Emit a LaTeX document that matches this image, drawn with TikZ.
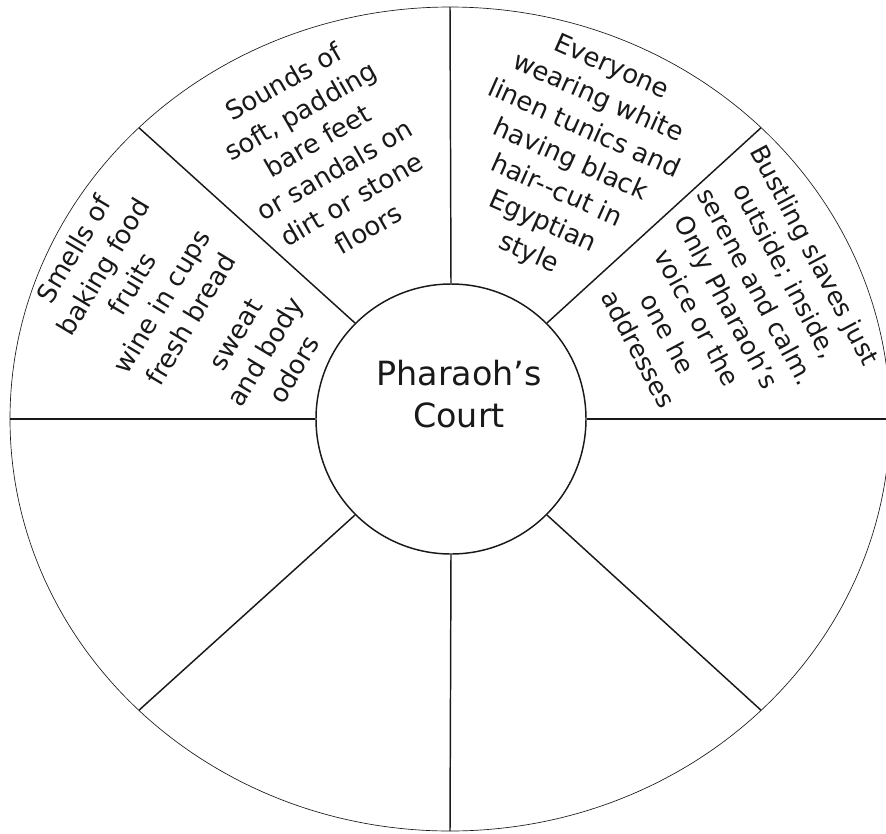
\documentclass[tikz,border=0pt]{standalone}
\usepackage{fontspec}
\setmainfont{DejaVu Sans}
\tikzset{every picture/.style={line width=0.75pt}}
\tikzset{
  hub/.style={circle, draw=black!90, line width=1.1pt, minimum size=202.5pt, inner sep=0pt},
  spoke/.style={draw=black!90, line width=1.1pt},
  rim/.style={draw=black!90, line width=0.5pt},
  wedgetext/.style={align=center, font=\fontsize{19.5}{25.5}\selectfont, text=black!90, inner sep=0pt},
  hubtext/.style={align=center, font=\fontsize{25}{32}\selectfont, text=black!90}
}

\begin{document}
\begin{tikzpicture}[x=0.75pt,y=0.75pt,yscale=-1,xscale=1]
\useasboundingbox (0,0) rectangle (886,833);

%Outer ring
\draw [rim] (450,419) ellipse [x radius=440, y radius=412];

% Hub
\node [hub] (court) at (451,419) {};
\node [hubtext] (courtname) at (459,394) {Pharaoh’s\\Court};

%Spokes
\foreach \a in {0,45,...,315} {
  \coordinate (rim\a) at ({450+440*cos(\a)},{419-412*sin(\a)});
  \draw [spoke] (court.\a) -- (rim\a);
}

% Text Node
\node [wedgetext, rotate=30] (sounds) at (326,155) {Sounds of\\soft, padding\\bare feet\\or sandals on\\dirt or stone\\floors};
% Text Node
\node [wedgetext, rotate=-24] (attire) at (570,161) {Everyone\\wearing white\\linen tunics and\\having black\\hair-{}-cut in\\Egyptian\\style};
% Text Node
\node [wedgetext, rotate=-62, font=\fontsize{19}{25}\selectfont] (bustle) at (727,302) {Bustling slaves just\\outside; inside,\\serene and calm.\\Only Pharaoh’s\\voice or the\\one he\\addresses};
% Text Node
\node [wedgetext, rotate=59] (smells) at (132,284) {Smells of\\baking food\\fruits\\wine in cups\\fresh bread};
% Text Node
\node [wedgetext, rotate=59] (odors) at (265,352) {sweat\\and body\\odors};

\end{tikzpicture}
\end{document}
